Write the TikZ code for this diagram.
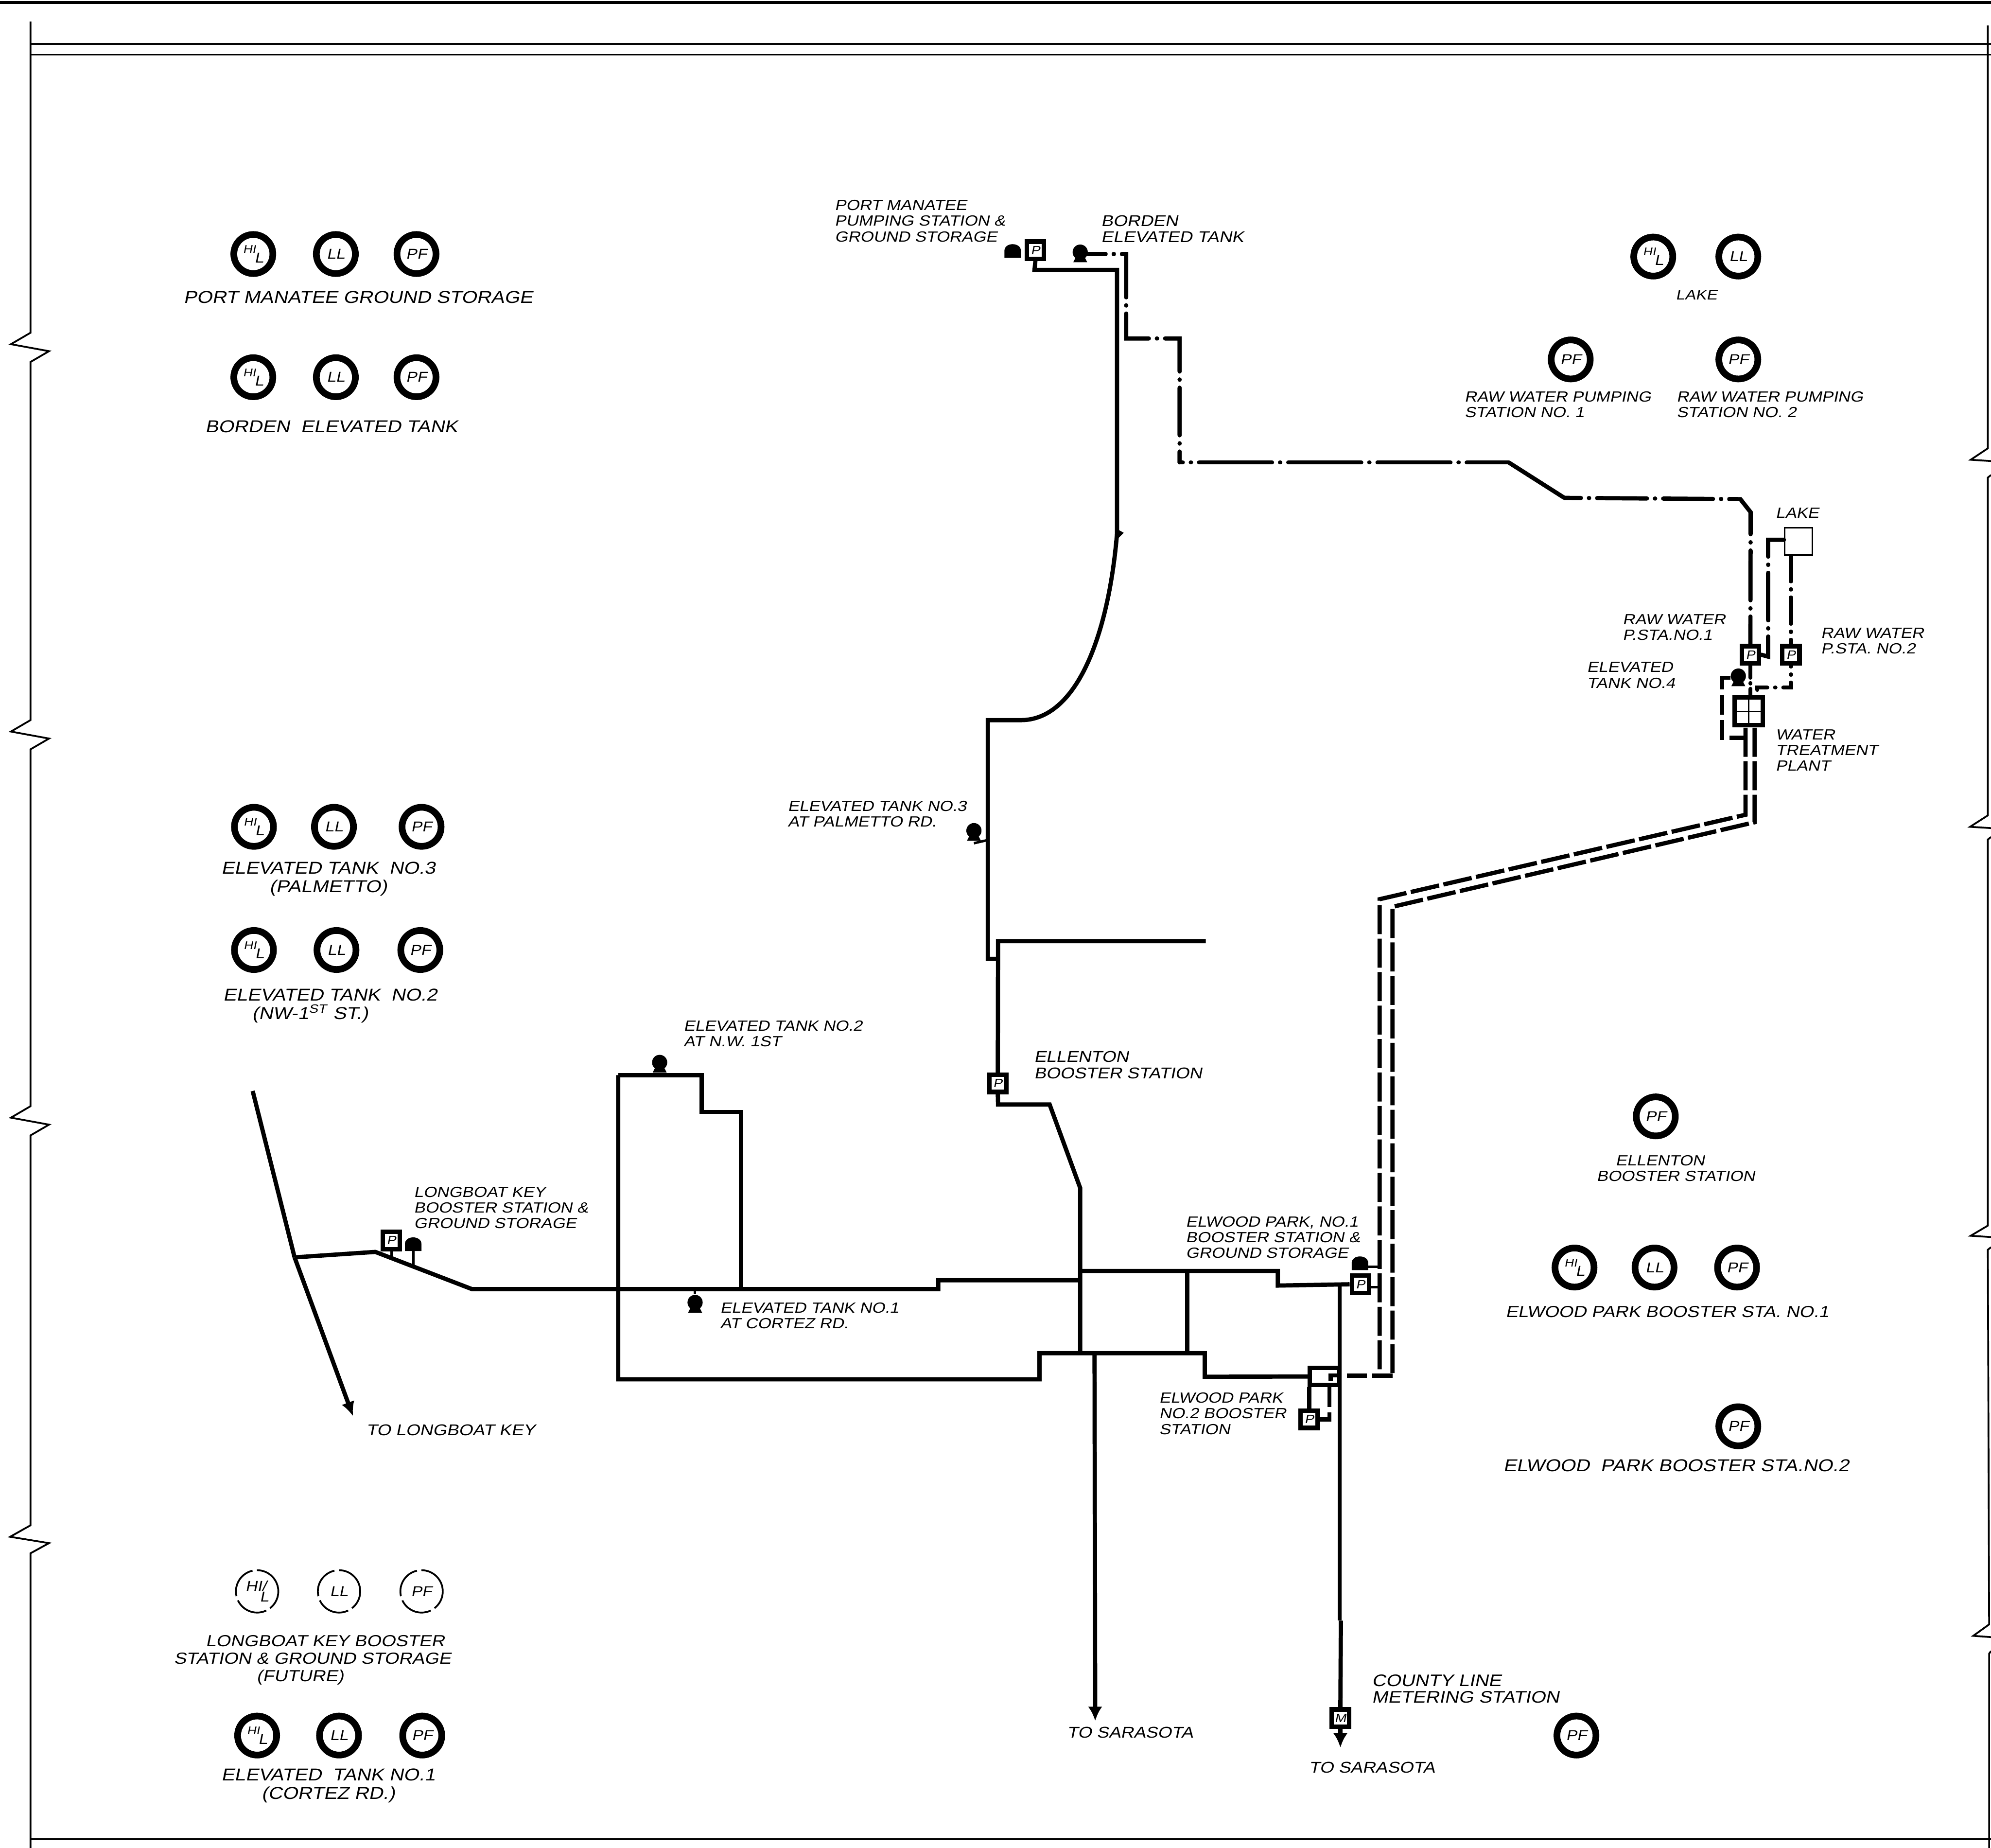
\documentclass[tikz,border=0pt]{standalone}
\usepackage{fontspec}
\newfontfamily\letfont[FakeStretch=1.15,FakeSlant=0.2]{Liberation Sans}
\usetikzlibrary{arrows.meta, calc}
\newcommand{\hil}{\raisebox{1.6pt}{\fontsize{5}{5}\selectfont HI}\hspace{-0.6pt}\raisebox{-2.6pt}{L}}

\tikzset{
  pipe/.style={line width=1.9pt, line join=miter},
  pipedot/.style 2 args={line width=1.9pt, line cap=round, dash pattern=on #1 off 3.6pt on 0.1pt off 3.6pt, dash phase=#2},
  pipedash/.style={line width=1.9pt, dash pattern=on 13pt off 2pt},
  pipeshort/.style={line width=1.9pt, dash pattern=on 9pt off 2.4pt},
  framel/.style={line width=0.8pt, line join=miter},
  gauge/.style={circle, draw, line width=3pt, minimum size=17.5pt, inner sep=0pt, font=\letfont\fontsize{6.4}{7}\selectfont},
  gaugefut/.style={circle, draw, line width=0.8pt, dash pattern=on 15pt off 2pt, minimum size=19pt, inner sep=0pt, font=\letfont\fontsize{6.4}{7}\selectfont},
  stabox/.style={draw, fill=white, line width=2pt, minimum size=7.7pt, inner sep=0pt, font=\letfont\fontsize{5.4}{6}\selectfont},
  bulb/.style={circle, fill=black, minimum size=6.8pt, inner sep=0pt},
  lblsm/.style={anchor=west, align=left, inner sep=0pt, font=\letfont\fontsize{6.6}{7}\selectfont},
  lblmd/.style={anchor=west, align=left, inner sep=0pt, font=\letfont\fontsize{7}{7.3}\selectfont},
  lbllg/.style={align=center, inner sep=0pt, font=\letfont\fontsize{7.7}{8.2}\selectfont},
}

\begin{document}
\begin{tikzpicture}[x=0.02cm, y=-0.02cm]
\useasboundingbox (0,0) rectangle (1568,1455);
\clip (0,0) rectangle (1568,1455);

% sheet frame
\draw[line width=1.2pt] (0,2) -- (1568,2);
\draw[line width=0.6pt] (24,34.5) -- (1568,34.5);
\draw[line width=0.7pt] (24,43) -- (1568,43);
\draw[line width=0.7pt] (24,1448) -- (1568,1448);
\draw[framel] (24,17) -- (24,262) -- (8.6,271) -- (38.6,276.5) -- (24,285) -- (24,567) -- (8.6,576) -- (38.6,581.5) -- (24,590)
  -- (24,871) -- (8.6,880) -- (38.6,885.5) -- (24,894) -- (24,1201) -- (8,1210) -- (38.6,1215) -- (24,1223) -- (24,1455);
\draw[framel] (1565.5,20) -- (1565.5,353) -- (1552,362) -- (1568,363);
\draw[framel] (1568,374) -- (1565.5,376) -- (1565.5,642) -- (1551.5,651) -- (1568,652);
\draw[framel] (1568,659) -- (1565.5,661) -- (1565.5,965) -- (1552,973) -- (1568,974);
\draw[framel] (1568,982) -- (1565.5,984) -- (1566.5,1279) -- (1554,1288) -- (1568,1289);
\draw[framel] (1568,1300) -- (1566.5,1302) -- (1566.5,1455);

% indicators
\foreach \name/\x/\y/\txt in {pmhl/199.5/200/\hil, pmll/264.5/200/LL, pmpf/328/200/PF,
    bohl/199.5/297/\hil, boll/264.5/297/LL, bopf/328/297/PF,
    ethl/200/651/\hil, etll/263/651/LL, etpf/332/651/PF,
    twhl/200/748/\hil, twll/265/748/LL, twpf/331/748/PF,
    eohl/202.5/1366.5/\hil, eoll/267/1366.5/LL, eopf/332.5/1366.5/PF,
    lkhl/1302/202/\hil, lkll/1369/202/LL, rwaa/1237/283/PF, rwbb/1369/283/PF,
    elpf/1304/879/PF, eahl/1240/998/\hil, eall/1303/998/LL, eapf/1368/998/PF,
    ebpf/1369/1123/PF, clpf/1241.5/1366.5/PF}
  \node[gauge] (\name) at (\x,\y) {\txt};
\node[gaugefut] (lbhl) at (202.5,1253) {\raisebox{1.8pt}{HI/}\hspace{-3pt}\raisebox{-3pt}{L}};
\node[gaugefut] (lbll) at (267,1253) {LL};
\node[gaugefut] (lbpf) at (332,1253) {PF};

% indicator captions
\node[lbllg] (capport) at (282,234) {PORT MANATEE  GROUND STORAGE};
\node[lbllg] (capbord) at (261,336) {BORDEN~~ELEVATED~TANK};
\node[lbllg] (captkc) at (258.5,692) {ELEVATED TANK~~NO.3\\(PALMETTO)};
\node[lbllg] (captkb) at (260,792) {ELEVATED TANK~~NO.2\\(NW-1\textsuperscript{ST} ST.)\hspace*{18pt}};
\node[lbllg, font=\letfont\fontsize{7.2}{7.9}\selectfont] (caplong) at (246,1307) {\hspace*{11.4pt}LONGBOAT KEY BOOSTER\\STATION \& GROUND STORAGE\\(FUTURE)\hspace*{11pt}};
\node[lbllg] (captka) at (258.5,1406) {ELEVATED~~TANK~NO.1\\(CORTEZ RD.)};
\node[lbllg, font=\letfont\fontsize{6.3}{7}\selectfont] (caplake) at (1336,232) {LAKE};
\node[lblsm] (caprwa) at (1153,318.5) {RAW WATER PUMPING\\STATION NO. 1};
\node[lblsm] (caprwb) at (1320,318.5) {RAW WATER PUMPING\\STATION NO. 2};
\node[lblsm] (capell) at (1257,920) {\hspace*{8.5pt}ELLENTON\\BOOSTER STATION};
\node[lbllg, font=\letfont\fontsize{7.2}{8}\selectfont] (capea) at (1313,1033) {ELWOOD  PARK BOOSTER STA. NO.1};
\node[lbllg] (capeb) at (1320,1154) {ELWOOD~~PARK BOOSTER STA.NO.2};

% stations and tanks
\node[stabox] (pmbox) at (815.4,197) {P};
\node[stabox] (lkbox) at (308.2,976.7) {P};
\node[stabox] (elbox) at (785.8,853) {P};
\node[stabox] (eabox) at (1071.4,1011.2) {P};
\node[stabox] (ebbox) at (1031,1117.5) {P};
\node[stabox] (rabox) at (1378.5,515.5) {P};
\node[stabox] (rbbox) at (1410.4,515.5) {P};
\node[stabox] (mtbox) at (1055.6,1352.7) {M};
\node[draw, line width=0.7pt, minimum size=12.4pt, inner sep=0pt] (lake) at (1416.4,426.3) {};
\node[draw, line width=2pt, minimum size=12.6pt, inner sep=0pt] (wtp) at (1377.2,560) {};
\draw[line width=0.6pt] (wtp.north) -- (wtp.south) (wtp.west) -- (wtp.east);
\node[draw, line width=1.9pt, minimum width=13.2pt, minimum height=7.6pt, inner sep=0pt] (ebtee) at (1043,1083.8) {};

\foreach \name/\x/\y in {tkbord/850.7/198.5, tkc/767/654, tkb/519.5/836.5, tka/547.4/1025.5, tkd/1369/532.3}{
  \node[bulb] (\name) at (\x,\y) {};
  \fill ($(\name.center)+(-5.5,8)$) -- ($(\name.center)+(-3,3)$) -- ($(\name.center)+(3,3)$) -- ($(\name.center)+(5.5,8)$) -- cycle;
}
\foreach \name/\x/\y in {grpm/797.5/203, grlk/325.4/985, grea/1071/1000}{
  \coordinate (\name) at (\x,\y);
  \fill ($(\name)+(-6.5,0)$) -- ++(0,-5.5) .. controls +(0,-7) and +(0,-7) .. ++(13,0) -- ++(0,5.5) -- cycle;
}

% main water lines
\coordinate (jlong) at (232,990);
\coordinate (jcort) at (371.7,1015);
\coordinate (jsouth) at (850.7,1065.4);
\coordinate (jnorth) at (850.7,1000.7);
\coordinate (jpalm) at (778,755);
\coordinate (jmid) at (1055,1012.2);
\coordinate (tlong) at (199,859);
\coordinate (tolong) at (278,1115);
\coordinate (tosar) at (862.5,1355);
\coordinate (tosarb) at (1055.6,1376);
\draw[pipe] (tlong) -- (jlong);
\draw[pipe, -{Latex[length=6.4pt,width=6pt]}] (jlong) -- (tolong);
\draw[pipe] (jlong) -- (295.6,985.7) -- (jcort) -- (738.9,1015) -- (738.9,1008) -- (850.7,1008);
\draw[pipe] (pmbox.south) -- (814.7,212.5) -- (879.7,212.5) -- (879.7,420) .. controls (873,500) and (848,567) .. (804,567) -- (778,567) -- (jpalm) -- (786,755);
\fill (880.5,417) -- (885,419.5) -- (880.5,424) -- cycle;
\draw[pipe] (949.6,741) -- (786,741) -- (elbox.north);
\draw[pipe] (elbox.south) -- (786,869.6) -- (826.6,869.6) -- (850.7,935.4) -- (jsouth);
\draw[pipe] (486.8,846.5) -- (552.5,846.5) -- (552.5,875.5) -- (583.5,875.5) -- (583.5,1015);
\draw[pipe] (486.8,846.5) -- (486.8,1086) -- (818.6,1086) -- (818.6,1065.4) -- (948.8,1065.4) -- (948.8,1084) -- (ebtee.west);
\draw[pipe] (jnorth) -- (1006.3,1000.7) -- (1006.3,1012.2) -- (eabox.west);
\draw[pipe] (935,1000.7) -- (935,1065.4);
\draw[pipe] (jmid) -- (1055,1276);
\draw[pipe] (1056,1276) -- (mtbox.north);
\draw[pipe, -{Latex[length=6.4pt,width=6.4pt]}] (mtbox.south) -- (tosarb);
\draw[pipe, -{Latex[length=6.4pt,width=6.4pt]}] (862,1065.4) -- (tosar);
\draw[pipe] (ebtee.south) ++(-12,0) -- (ebbox.north);
\draw[line width=1.1pt] (grlk) -- (325.4,997);
\draw[line width=1.1pt] (lkbox.south) -- (308.2,992);
\draw[line width=1.1pt] (tkc.south) ++(0,3.6) -- (778,661.4);
\draw[line width=1.1pt] (tka.north) -- (547.4,1015);
\draw[line width=1.1pt] (1077,997.3) -- (1086.5,997.3);
\draw[line width=1.1pt] (eabox.east) ++(0,2.4) -- (1086.5,1013.6);

% raw water, dot and dash
\coordinate (jdiaga) at (1188,364);
\coordinate (jdiagb) at (1232,392);
\coordinate (jturn) at (929,364);
\draw[pipedot={21.3pt}{13.5pt}] (tkbord.east) ++(0,1.5) -- (886.9,200) -- (886.9,266.5) -- (929,266.5) -- (jturn);
\draw[pipedot={32.7pt}{31.3pt}] (jturn) -- (jdiaga);
\draw[pipe] (jdiaga) -- (jdiagb);
\draw[pipedot={22.3pt}{14.9pt}] (jdiagb) -- (1370.6,393) -- (1378.7,403.3) -- (rabox.north);
\draw[pipedot={21.2pt}{6.6pt}] (lake.west) ++(0,-1.3) -- (1392.5,425) -- (1392.5,517) -- (rabox.east);
\draw[pipedot={11.7pt}{0.4pt}] (lake.south) ++(-6,0) -- (rbbox.north);
\draw[pipedot={5.5pt}{5.1pt}] (rbbox.south) -- (1410.4,541.3) -- (1383.8,541.3) -- (1383.8,547);
\draw[line width=1.9pt, line cap=round, dash pattern=on 5.4pt off 2.5pt on 0.1pt off 2.5pt] (rabox.south) -- (1378.5,547);

% finished water, dashed
\coordinate (wtpa) at (1374.7,573);
\coordinate (wtpb) at (1381.8,573);
\coordinate (jea) at (1086.5,1083.2);
\coordinate (jeb) at (1096.6,1083.2);
\draw[pipeshort] (tkd.west) ++(0,1.3) -- (1356,533.6) -- (1356,581) -- (1373.7,581);
\draw[pipedash] (wtpa) -- (1374.7,641.5) -- (1086.5,708) -- (jea);
\draw[pipedash] (wtpb) -- (1381.8,647.4) -- (1096.6,714) -- (jeb);
\draw[pipeshort] (jeb) -- (1060,1083.2);
\draw[pipeshort] (1047,1092) -- (1047,1117.5) -- (ebbox.east);
\draw[pipe] (1054,1083) -- (1048,1083) -- (1048,1087);

% station labels
\node[lblsm] (lblpm) at (657,174) {PORT MANATEE\\PUMPING STATION \&\\GROUND STORAGE};
\node[lblsm, font=\letfont\fontsize{7}{7.2}\selectfont] (lblbord) at (866.8,180.3) {BORDEN\\ELEVATED TANK};
\node[lblsm] (lbllake) at (1398,404) {LAKE};
\node[lblsm] (lblrwa) at (1277.5,494) {RAW WATER\\P.STA.NO.1};
\node[lblsm] (lblrwb) at (1433.7,504.6) {RAW WATER\\P.STA. NO.2};
\node[lblsm] (lbltkd) at (1249.4,531.6) {ELEVATED\\TANK NO.4};
\node[lblsm] (lblwtp) at (1398,590.8) {WATER\\TREATMENT\\PLANT};
\node[lblsm] (lbltkc) at (620,641) {ELEVATED TANK NO.3\\AT PALMETTO RD.};
\node[lblsm] (lbltkb) at (538,814) {ELEVATED TANK NO.2\\AT N.W. 1ST};
\node[lblsm] (lbltka) at (566.8,1035.8) {ELEVATED TANK NO.1\\AT CORTEZ RD.};
\node[lblmd] (lblell) at (814,838.5) {ELLENTON\\BOOSTER STATION};
\node[lblsm] (lbllong) at (325.6,951) {LONGBOAT KEY\\BOOSTER STATION \&\\GROUND STORAGE};
\node[lblsm] (lblea) at (933.5,974.3) {ELWOOD PARK, NO.1\\BOOSTER STATION \&\\GROUND STORAGE};
\node[lblsm] (lbleb) at (912.5,1113) {ELWOOD PARK\\NO.2 BOOSTER\\STATION};
\node[lblmd, font=\letfont\fontsize{7.5}{7.3}\selectfont] (lblcnty) at (1080,1329.8) {COUNTY LINE\\METERING STATION};
\node[lblmd] (lbltola) at (288,1126) {TO LONGBOAT KEY};
\node[lblmd] (lbltosa) at (840,1364) {TO SARASOTA};
\node[lblmd] (lbltosb) at (1030.4,1391.7) {TO SARASOTA};
\end{tikzpicture}
\end{document}
